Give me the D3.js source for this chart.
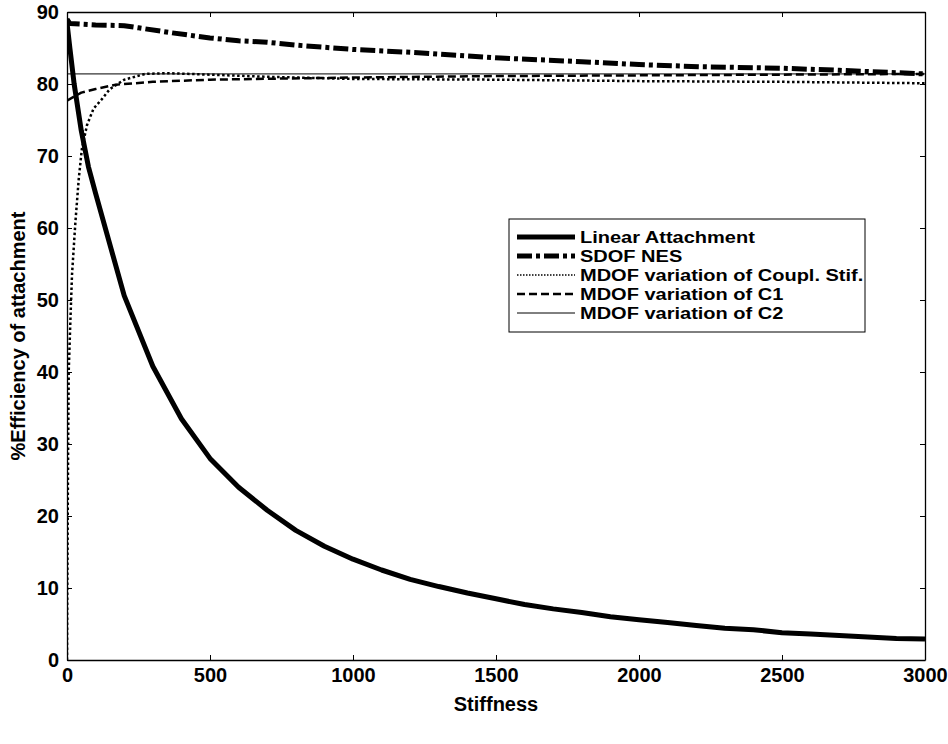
<!DOCTYPE html>
<html><head><meta charset="utf-8">
<script src="https://cdn.jsdelivr.net/npm/d3@7"></script>
<style>body{margin:0;background:#fff}svg text{font-family:"Liberation Sans",Arial,sans-serif;font-weight:bold;fill:#000}</style>
</head><body><svg id="c" width="948" height="744"></svg>
<script>
const xTicks=[0,500,1000,1500,2000,2500,3000];
const yTicks=[0,10,20,30,40,50,60,70,80,90];
const linearX=[0,10,25,50,75,100,200,300,400,500,600,700,800,900,1000,1100,1200,1300,1400,1500,1600,1700,1800,1900,2000,2100,2200,2300,2400,2500,2600,2700,2800,2900,3000];
const linearY=[88.5,85,80,73.5,68.5,64.8,50.6,40.8,33.5,28,24,20.8,18,15.8,14,12.5,11.2,10.2,9.3,8.5,7.7,7.1,6.6,6,5.6,5.2,4.8,4.4,4.2,3.8,3.6,3.4,3.2,3.0,2.9];
const sdofX=[0,10,100,200,250,368,500,600,700,800,900,1000,1200,1400,1516,1800,2000,2216,2494,2700,3000];
const sdofY=[89,88.4,88.2,88.1,87.8,87.1,86.4,86.0,85.8,85.4,85.1,84.8,84.4,83.9,83.6,83.1,82.7,82.4,82.2,81.9,81.4];
const couplX=[0,1,2.5,4,6,12,17.5,29,41,52,70,93,122,150,200,273,350,500,700,1000,1500,2000,2500,3000];
const couplY=[0,10,20,30,40,47.3,53.5,60.6,66.8,71,74.3,76.6,77.9,79.3,80.6,81.4,81.5,81.3,81.0,80.7,80.6,80.4,80.3,80.1];
const c1X=[0,50,100,170,300,500,1000,1500,2000,2500,3000];
const c1Y=[77.7,78.8,79.3,79.9,80.3,80.6,80.9,81.1,81.2,81.3,81.4];
const c2X=[0,1000,2000,3000];
const c2Y=[81.4,81.4,81.4,81.4];
const seriesNames=["Linear Attachment","SDOF NES","MDOF variation of Coupl. Stif.","MDOF variation of C1","MDOF variation of C2"];

const L=67,R=925,T=12,B=660;
const FS=20;
const svg=d3.select("#c");
const x=d3.scaleLinear().domain([0,3000]).range([L,R]);
const y=d3.scaleLinear().domain([0,90]).range([B,T]);
const styles=[
 {w:5,dash:null},
 {w:5,dash:"15,4,4,4"},
 {w:2.5,dash:"2.5,2.5"},
 {w:2.5,dash:"8,4"},
 {w:1,dash:null}
];
const data=[[linearX,linearY],[sdofX,sdofY],[couplX,couplY],[c1X,c1Y],[c2X,c2Y]];
svg.append("clipPath").attr("id","cp").append("rect").attr("x",L).attr("y",T).attr("width",R-L).attr("height",B-T);
const line=d3.line().x(d=>x(d[0])).y(d=>y(d[1]));
const g=svg.append("g").attr("clip-path","url(#cp)");
data.forEach((s,i)=>{
  const pts=s[0].map((v,j)=>[v,s[1][j]]);
  g.append("path").datum(pts).attr("d",line).attr("fill","none").attr("stroke","#000")
   .attr("stroke-width",styles[i].w).attr("stroke-dasharray",styles[i].dash).attr("stroke-linejoin","round");
});
const ax=(gen,tr)=>svg.append("g").attr("transform",tr).call(gen);
const xb=ax(d3.axisBottom(x).tickValues(xTicks).tickFormat(d3.format("d")).tickSizeInner(-5).tickSizeOuter(0).tickPadding(8),`translate(0,${B})`);
const xt=ax(d3.axisTop(x).tickValues(xTicks).tickSizeInner(-5).tickSizeOuter(0).tickFormat(""),`translate(0,${T})`);
const yl=ax(d3.axisLeft(y).tickValues(yTicks).tickSizeInner(-5).tickSizeOuter(0).tickPadding(8),`translate(${L},0)`);
const yr=ax(d3.axisRight(y).tickValues(yTicks).tickSizeInner(-5).tickSizeOuter(0).tickFormat(""),`translate(${R},0)`);
[xb,xt,yl,yr].forEach(a=>{a.selectAll("path").attr("stroke","#000").attr("stroke-width",1.3);a.selectAll("line").attr("stroke","#000");a.selectAll("text").style("font-size",FS+"px").style("font-family","Liberation Sans, Arial").style("font-weight","bold");});
svg.append("text").attr("x",(L+R)/2).attr("y",711).attr("text-anchor","middle").style("font-size",FS+"px").text("Stiffness");
svg.append("text").attr("transform",`translate(25,${(T+B)/2}) rotate(-90)`).attr("text-anchor","middle").style("font-size",FS+"px").text("%Efficiency of attachment");
const lg=svg.append("g");
const lx=509,ly=219,lw=356,rowH=19;
lg.append("rect").attr("x",lx).attr("y",ly).attr("width",lw).attr("height",113).attr("fill","#fff").attr("stroke","#000").attr("stroke-width",1);
seriesNames.forEach((n,i)=>{
  const yy=ly+18+i*rowH;
  lg.append("line").attr("x1",lx+8).attr("x2",lx+66).attr("y1",yy).attr("y2",yy).attr("stroke","#000")
   .attr("stroke-width",i==2?1.5:styles[i].w).attr("stroke-dasharray",i==2?"1.5,1.5":styles[i].dash);
  lg.append("text").attr("transform",`translate(${lx+71},${yy+6}) scale(1.25,1)`).style("font-size","16px").text(n);
});
</script></body></html>
